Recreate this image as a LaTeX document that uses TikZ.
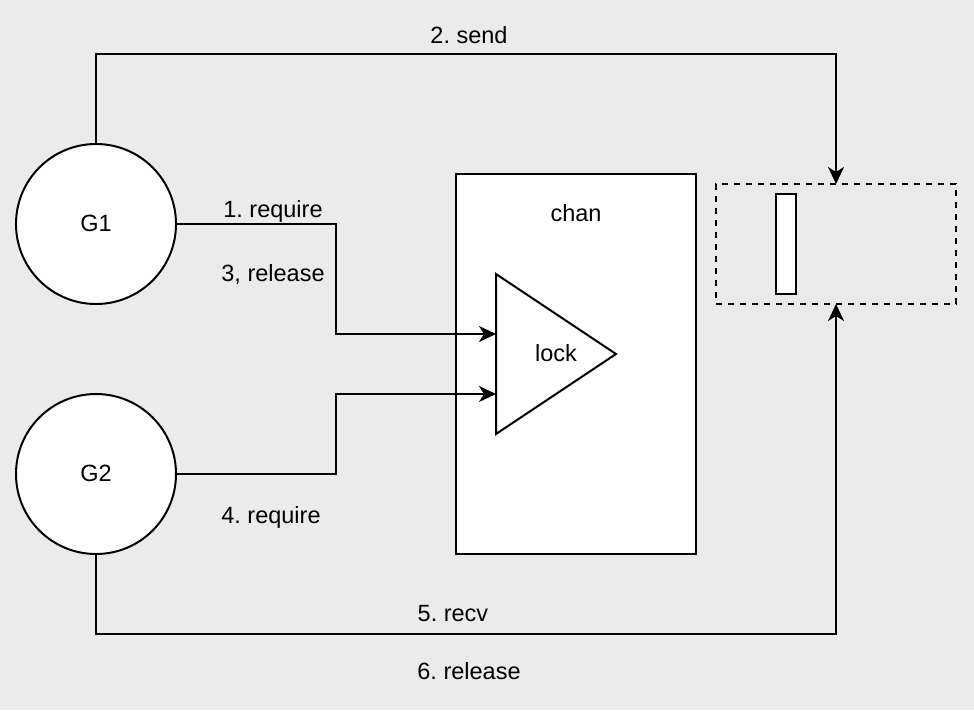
\documentclass[tikz,border=0pt]{standalone}
\usepackage{fontspec}
\setmainfont{Liberation Sans}
\usetikzlibrary{arrows.meta,shapes.geometric}
\definecolor{bg}{HTML}{EBEBEB}
\frenchspacing
\tikzset{
  box/.style={draw=black, fill=white, line width=2pt, inner sep=0pt, outer sep=0pt},
  lbl/.style={inner sep=0pt, text height=17pt, text depth=3pt, anchor=center},
  arr/.style={line width=2pt, -{Stealth[length=17pt,width=16pt,inset=5pt]}},
  conn/.style={line width=2pt}
}
\begin{document}
\begin{tikzpicture}[x=1pt,y=-1pt, font=\fontsize{23.5}{28}\selectfont\frenchspacing]
\fill[bg] (0,0) rectangle (974,710);
\useasboundingbox (0,0) rectangle (974,710);
% nodes
\node[box, circle, minimum size=160pt] (g1) at (96,224) {};
\node[lbl] (g1t) at (96,224) {G1};
\node[box, circle, minimum size=160pt] (g2) at (96,474) {};
\node[lbl] (g2t) at (96,474) {G2};
\node[box, rectangle, minimum width=240pt, minimum height=380pt] (chan) at (576,364) {};
\node[lbl] (chant) at (576,214) {chan};
\draw[line width=2pt, fill=white] (496,274) -- (496,434) -- (616,354) -- cycle;
\coordinate (lockin1) at (496,334);
\coordinate (lockin2) at (496,394);
\node[lbl] (lockt) at (556,354) {lock};
\node[draw=black, line width=2pt, dash pattern=on 6pt off 6pt, rectangle, minimum width=240pt, minimum height=120pt, inner sep=0pt, outer sep=0pt] (buf) at (836,244) {};
\node[box, rectangle, minimum width=20pt, minimum height=100pt] (slot) at (786,244) {};
% connectors
\coordinate (c1) at (836,54);
\coordinate (c2) at (336,224);
\coordinate (c3) at (336,474);
\coordinate (c4) at (96,634);
\draw[arr] (g1.north) |- (c1) -- (buf.north);
\draw[arr] (g1.east) -- (c2) |- (lockin1);
\draw[arr] (g2.east) -- (c3) |- (lockin2);
\draw[arr] (g2.south) -- (c4) -| (buf.south);
% labels
\node[lbl] (l2) at (469,36) {2. send};
\node[lbl] (l1) at (273,210) {1. require};
\node[lbl] (l3) at (273,274) {3, release};
\node[lbl] (l4) at (271,516) {4. require};
\node[lbl] (l5) at (453,614) {5. recv};
\node[lbl] (l6) at (469,672) {6. release};
\end{tikzpicture}
\end{document}
